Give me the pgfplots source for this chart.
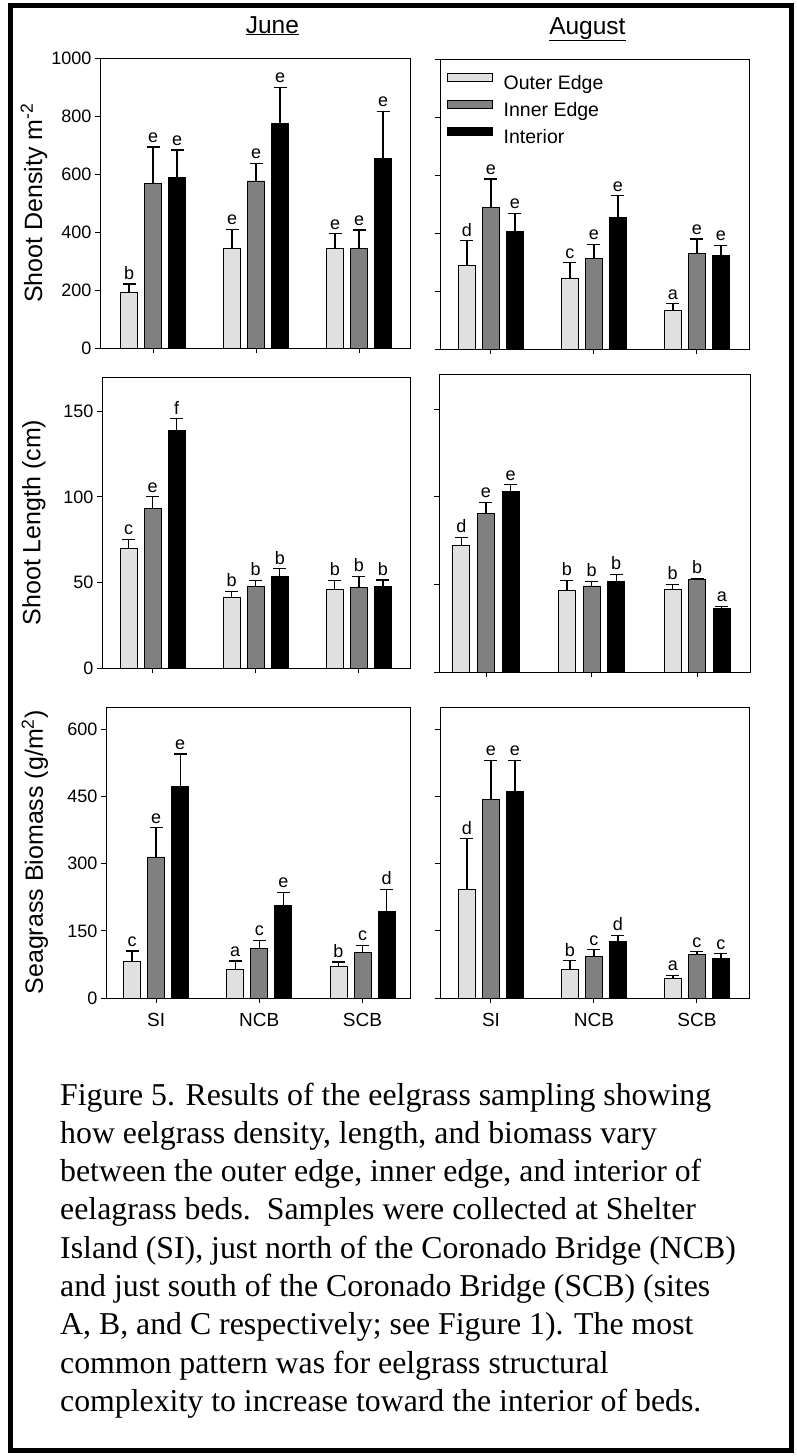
\documentclass[border=0pt]{standalone}
\usepackage{fontspec}
\setmainfont{Liberation Sans}
\newfontfamily\capfont{Liberation Serif}
\usepackage{pgfplots}
\pgfplotsset{compat=1.18}
\definecolor{lightbar}{RGB}{224,224,224}
\definecolor{midbar}{RGB}{128,128,128}
\pgfplotsset{
  panel/.style={
    scale only axis, anchor=north west, clip=false,
    axis line style={line width=1pt},
    tick style={line width=1pt, black},
    tick align=outside, major tick length=5pt,
    xtick={0,1,2}, xtick pos=bottom, ytick pos=left,
    xticklabels={}, ymin=0,
    yticklabel style={font=\fontsize{18}{18}\selectfont},
    xticklabel style={font=\fontsize{19}{20}\selectfont, yshift=-7pt},
    /pgf/number format/assume math mode=true,
    /pgf/number format/1000 sep={},
    ylabel style={anchor=center, font=\fontsize{25}{26}\selectfont},
    title style={anchor=base, yshift=19pt, font=\fontsize{24.5}{25}\selectfont},
  },
  allbar/.style={ybar, bar width=17pt, bar shift=0pt, draw=black, line width=0.8pt,
    error bars/y dir=plus, error bars/y explicit,
    error bars/error bar style={line width=1.2pt, black},
    error bars/error mark=-,
    error bars/error mark options={rotate=90, line width=1.2pt, mark size=6.5pt, black}},
  barO/.style={allbar, fill=lightbar,
    legend image code/.code={\draw[fill=lightbar, draw=black, line width=0.8pt] (0pt,3pt) rectangle (45pt,11pt);}},
  barI/.style={allbar, fill=midbar,
    legend image code/.code={\draw[fill=midbar, draw=black, line width=0.8pt] (0pt,3pt) rectangle (45pt,11pt);}},
  barX/.style={allbar, fill=black,
    legend image code/.code={\draw[fill=black, draw=black, line width=0.8pt] (0pt,3pt) rectangle (45pt,11pt);}},
  letters/.style={draw=none, forget plot, nodes near coords, point meta=explicit symbolic,
    every node near coord/.append style={font=\fontsize{18}{18}\selectfont, yshift=1pt}},
}
\begin{document}
\begin{tikzpicture}
\useasboundingbox (0pt,0pt) rectangle (796pt,-1456pt);
\draw[line width=5pt] (10.3pt,-5.5pt) rectangle (791pt,-1450pt);

% ---------- June density
\begin{axis}[panel, at={(100pt,-58pt)}, width=310pt, height=290pt,
  xmin=-0.515, xmax=2.495, ymax=1000, ytick={0,200,...,1000},
  ylabel={Shoot Density m\textsuperscript{-2}},
  ylabel style={at={(axis description cs:-0.213,0.5)}},
  title={\underline{June}}, title style={at={(0.556,1)}}]
\addplot[barO] coordinates {(-0.233,191) +- (0,30) (0.767,342) +- (0,68) (1.767,344) +- (0,50)};
\addplot[barI] coordinates {(0,566) +- (0,127) (1,576) +- (0,60) (2,342) +- (0,65)};
\addplot[barX] coordinates {(0.233,587) +- (0,96) (1.233,775) +- (0,124) (2.233,653) +- (0,162)};
\addplot[letters] coordinates {(-0.233,221) [b] (0.767,410) [e] (1.767,394) [e] (0,693) [e] (1,636) [e] (2,407) [e] (0.233,683) [e] (1.233,899) [e] (2.233,815) [e]};
\end{axis}

% ---------- August density
\begin{axis}[panel, at={(440pt,-59pt)}, width=309pt, height=290pt,
  xmin=-0.495, xmax=2.505, ymax=1000, ytick={0,200,...,1000}, yticklabels={},
  title={\underline{August}}, title style={at={(0.477,1)}},
  legend cell align=left,
  legend style={at={(0.0217,0.952)}, anchor=north west, draw=none, fill=none, inner sep=0pt,
    row sep=6.5pt, column sep=11pt, font=\fontsize{19.5}{20}\selectfont,
    nodes={inner sep=0pt, text height=14pt, text depth=4pt}}]
\addplot[barO] coordinates {(-0.233,288) +- (0,85) (0.767,245) +- (0,52) (1.767,133) +- (0,23)};
\addlegendentry{Outer Edge}
\addplot[barI] coordinates {(0,487) +- (0,99) (1,311) +- (0,49) (2,330) +- (0,49)};
\addlegendentry{Inner Edge}
\addplot[barX] coordinates {(0.233,406) +- (0,62) (1.233,455) +- (0,73) (2.233,323) +- (0,34)};
\addlegendentry{Interior}
\addplot[letters] coordinates {(-0.233,373) [d] (0.767,297) [c] (1.767,156) [a] (0,586) [e] (1,360) [e] (2,379) [e] (0.233,468) [e] (1.233,528) [e] (2.233,357) [e]};
\end{axis}

% ---------- June length
\begin{axis}[panel, at={(102pt,-377pt)}, width=308pt, height=291pt,
  xmin=-0.49, xmax=2.495, ymax=170, ytick={0,50,100,150},
  ylabel={Shoot Length (cm)},
  ylabel style={at={(axis description cs:-0.221,0.5)}}]
\addplot[barO] coordinates {(-0.233,70.0) +- (0,5.3) (0.767,41.4) +- (0,3.5) (1.767,46.1) +- (0,4.9)};
\addplot[barI] coordinates {(0,93.2) +- (0,6.8) (1,47.7) +- (0,3.5) (2,47.3) +- (0,6.2)};
\addplot[barX] coordinates {(0.233,138.7) +- (0,7.0) (1.233,53.7) +- (0,4.3) (2.233,47.7) +- (0,3.7)};
\addplot[letters] coordinates {(-0.233,75.3) [c] (0.767,44.9) [b] (1.767,51.0) [b] (0,100.0) [e] (1,51.2) [b] (2,53.5) [b] (0.233,145.7) [f] (1.233,58.0) [b] (2.233,51.4) [b]};
\end{axis}

% ---------- August length
\begin{axis}[panel, at={(439pt,-374pt)}, width=311pt, height=298pt,
  xmin=-0.445, xmax=2.5, ymax=170, ytick={0,50,100,150}, yticklabels={}]
\addplot[barO] coordinates {(-0.233,72.0) +- (0,4.9) (0.767,46.8) +- (0,5.6) (1.767,47.2) +- (0,2.9)};
\addplot[barI] coordinates {(0,90.4) +- (0,6.3) (1,49.1) +- (0,2.7) (2,52.7) +- (0,0.6)};
\addplot[barX] coordinates {(0.233,103.2) +- (0,3.6) (1.233,51.8) +- (0,4.0) (2.233,36.4) +- (0,0.9)};
\addplot[letters] coordinates {(-0.233,76.9) [d] (0.767,52.4) [b] (1.767,50.1) [b] (0,96.7) [e] (1,51.8) [b] (2,53.3) [b] (0.233,106.8) [e] (1.233,55.8) [b] (2.233,37.3) [a]};
\end{axis}

% ---------- June biomass
\begin{axis}[panel, at={(106pt,-707pt)}, width=304pt, height=291pt,
  xmin=-0.485, xmax=2.46, ymax=650, ytick={0,150,...,600},
  xticklabels={SI,NCB,SCB},
  ylabel={Seagrass Biomass (g/m\textsuperscript{2})},
  ylabel style={at={(axis description cs:-0.234,0.5)}}]
\addplot[barO] coordinates {(-0.233,82.8) +- (0,22) (0.767,63.4) +- (0,19.4) (1.767,71) +- (0,9.6)};
\addplot[barI] coordinates {(0,315) +- (0,65) (1,110) +- (0,18) (2,102) +- (0,15)};
\addplot[barX] coordinates {(0.233,472) +- (0,73) (1.233,207) +- (0,29) (2.233,193) +- (0,49)};
\addplot[letters] coordinates {(-0.233,104.8) [c] (0.767,82.8) [a] (1.767,80.6) [b] (0,380) [e] (1,128) [c] (2,117) [c] (0.233,545) [e] (1.233,236) [e] (2.233,242) [d]};
\end{axis}

% ---------- August biomass
\begin{axis}[panel, at={(440pt,-707pt)}, width=309pt, height=291pt,
  xmin=-0.495, xmax=2.505, ymax=650, ytick={0,150,...,600}, yticklabels={},
  xticklabels={SI,NCB,SCB}]
\addplot[barO] coordinates {(-0.233,243.6) +- (0,112) (0.767,64) +- (0,19) (1.767,43.3) +- (0,7.5)};
\addplot[barI] coordinates {(0,444) +- (0,87) (1,92) +- (0,15.6) (2,96.4) +- (0,6.6)};
\addplot[barX] coordinates {(0.233,462) +- (0,69) (1.233,125.6) +- (0,14.2) (2.233,88) +- (0,10.6)};
\addplot[letters] coordinates {(-0.233,355.6) [d] (0.767,83) [b] (1.767,50.8) [a] (0,531) [e] (1,107.6) [c] (2,103) [c] (0.233,531) [e] (1.233,139.8) [d] (2.233,98.6) [c]};
\end{axis}

% ---------- caption
\begin{scope}[every node/.style={anchor=base west, inner sep=0pt, font=\capfont\fontsize{31.8}{38.3}\selectfont}]
\node at (60pt,-1105pt) {Figure 5. Results of the eelgrass sampling showing};
\node at (60pt,-1143.3pt) {how eelgrass density, length, and biomass vary};
\node at (60pt,-1181.6pt) {between the outer edge, inner edge, and interior of};
\node at (60pt,-1219.9pt) {eelagrass beds.\ \ Samples were collected at Shelter};
\node at (60pt,-1258.2pt) {Island (SI), just north of the Coronado Bridge (NCB)};
\node at (60pt,-1296.5pt) {and just south of the Coronado Bridge (SCB) (sites};
\node at (60pt,-1334.8pt) {A, B, and C respectively; see Figure 1). The most};
\node at (60pt,-1373.1pt) {common pattern was for eelgrass structural};
\node at (60pt,-1411.4pt) {complexity to increase toward the interior of beds.};
\end{scope}
\end{tikzpicture}
\end{document}
